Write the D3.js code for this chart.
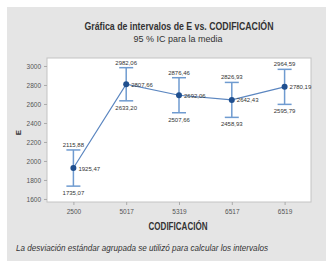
<!DOCTYPE html>
<html>
<head>
<meta charset="utf-8">
<script src="https://cdn.jsdelivr.net/npm/d3@7"></script>
<style>
  body { margin: 0; background: #fff; }
  text { font-family: "Liberation Sans", Arial, sans-serif; }
</style>
</head>
<body>
<div id="chart"></div>
<script>
// data
var categories = ["2500", "5017", "5319", "6517", "6519"];
var means = [1925.47, 2807.66, 2692.06, 2642.43, 2780.19];
var upper = [2115.88, 2982.06, 2876.46, 2826.93, 2964.59];
var lower = [1735.07, 2633.20, 2507.66, 2458.93, 2595.79];
var yTicks = [1600, 1800, 2000, 2200, 2400, 2600, 2800, 3000];

var width = 331, height = 267;
var margin = {top: 58, right: 20, bottom: 65, left: 47};

var svg = d3.select("#chart").append("svg")
    .attr("width", width)
    .attr("height", height);

// grey panel
svg.append("rect")
    .attr("x", 7).attr("y", 7)
    .attr("width", 319).attr("height", 254)
    .attr("fill", "#e5e5e5");

var x = d3.scalePoint()
    .domain(categories)
    .range([margin.left, width - margin.right])
    .padding(0.5);

var y = d3.scaleLinear()
    .domain([1568, 3084])
    .range([height - margin.bottom, margin.top]);

// plot area
svg.append("rect")
    .attr("x", margin.left).attr("y", margin.top)
    .attr("width", width - margin.right - margin.left)
    .attr("height", height - margin.bottom - margin.top)
    .attr("fill", "#fff")
    .attr("stroke", "#c4c4c4")
    .attr("stroke-width", 1);

// axes
var yAxis = svg.append("g")
    .attr("transform", "translate(" + margin.left + ",0)")
    .call(d3.axisLeft(y).tickValues(yTicks).tickSize(3).tickFormat(d3.format("d")));
var xAxis = svg.append("g")
    .attr("transform", "translate(0," + (height - margin.bottom) + ")")
    .call(d3.axisBottom(x).tickSize(3));

[yAxis, xAxis].forEach(function(ax){
  ax.select(".domain").remove();
  ax.selectAll(".tick line").attr("stroke", "#aaa");
  ax.selectAll(".tick text")
    .attr("fill", "#555")
    .style("font-size", "6.5px");
});
yAxis.selectAll(".tick text").attr("x", -6);
xAxis.selectAll(".tick text").attr("y", 7);

var fmt = function(v){ return d3.format(".2f")(v).replace(".", ","); };

var pts = categories.map(function(c, i){
  return {cat: c, mean: means[i], hi: upper[i], lo: lower[i]};
});

// connecting line
svg.append("path")
    .datum(pts)
    .attr("fill", "none")
    .attr("stroke", "#5b86c0")
    .attr("stroke-width", 1.2)
    .attr("d", d3.line()
        .x(function(d){ return x(d.cat); })
        .y(function(d){ return y(d.mean); }));

// error bars
var g = svg.selectAll(".ebar")
    .data(pts)
    .enter().append("g")
    .attr("class", "ebar");

g.append("line")
    .attr("x1", function(d){ return x(d.cat); })
    .attr("x2", function(d){ return x(d.cat); })
    .attr("y1", function(d){ return y(d.hi); })
    .attr("y2", function(d){ return y(d.lo); })
    .attr("stroke", "#6f9bd0")
    .attr("stroke-width", 1.5);

["hi", "lo"].forEach(function(k){
  g.append("line")
    .attr("x1", function(d){ return x(d.cat) - 7; })
    .attr("x2", function(d){ return x(d.cat) + 7; })
    .attr("y1", function(d){ return y(d[k]); })
    .attr("y2", function(d){ return y(d[k]); })
    .attr("stroke", "#6f9bd0")
    .attr("stroke-width", 1.5);
});

g.append("circle")
    .attr("cx", function(d){ return x(d.cat); })
    .attr("cy", function(d){ return y(d.mean); })
    .attr("r", 3)
    .attr("fill", "#1f4f8f");

// value labels
var lblStyle = function(sel){
  sel.attr("fill", "#333")
    .style("font-size", "6px");
};
g.append("text")
    .attr("x", function(d){ return x(d.cat); })
    .attr("y", function(d){ return y(d.hi) - 3; })
    .attr("text-anchor", "middle")
    .text(function(d){ return fmt(d.hi); })
    .call(lblStyle);
g.append("text")
    .attr("x", function(d){ return x(d.cat); })
    .attr("y", function(d){ return y(d.lo) + 9; })
    .attr("text-anchor", "middle")
    .text(function(d){ return fmt(d.lo); })
    .call(lblStyle);
g.append("text")
    .attr("x", function(d){ return x(d.cat) + 5; })
    .attr("y", function(d){ return y(d.mean) + 2.5; })
    .text(function(d){ return fmt(d.mean); })
    .call(lblStyle);

// titles (condensed to the reference widths)
function squeeze(sel, w){
  sel.attr("textLength", w).attr("lengthAdjust", "spacingAndGlyphs");
}
svg.append("text")
    .attr("x", 179).attr("y", 30)
    .attr("text-anchor", "middle")
    .attr("fill", "#333")
    .style("font-size", "10px")
    .style("font-weight", "bold")
    .text("Gráfica de intervalos de E vs. CODIFICACIÓN")
    .call(squeeze, 189);
svg.append("text")
    .attr("x", 178).attr("y", 42)
    .attr("text-anchor", "middle")
    .attr("fill", "#333")
    .style("font-size", "9px")
    .text("95 % IC para la media")
    .call(squeeze, 89);

svg.append("text")
    .attr("x", 178).attr("y", 230)
    .attr("text-anchor", "middle")
    .attr("fill", "#333")
    .style("font-size", "10px")
    .style("font-weight", "bold")
    .text("CODIFICACIÓN")
    .call(squeeze, 59);

svg.append("text")
    .attr("transform", "translate(21," + y(2300) + ") rotate(-90)")
    .attr("text-anchor", "middle")
    .attr("fill", "#333")
    .style("font-size", "8px")
    .style("font-weight", "bold")
    .text("E");

svg.append("text")
    .attr("x", 16).attr("y", 251)
    .attr("fill", "#333")
    .style("font-size", "9px")
    .style("font-style", "italic")
    .text("La desviación estándar agrupada se utilizó para calcular los intervalos")
    .call(squeeze, 252);
</script>
</body>
</html>
